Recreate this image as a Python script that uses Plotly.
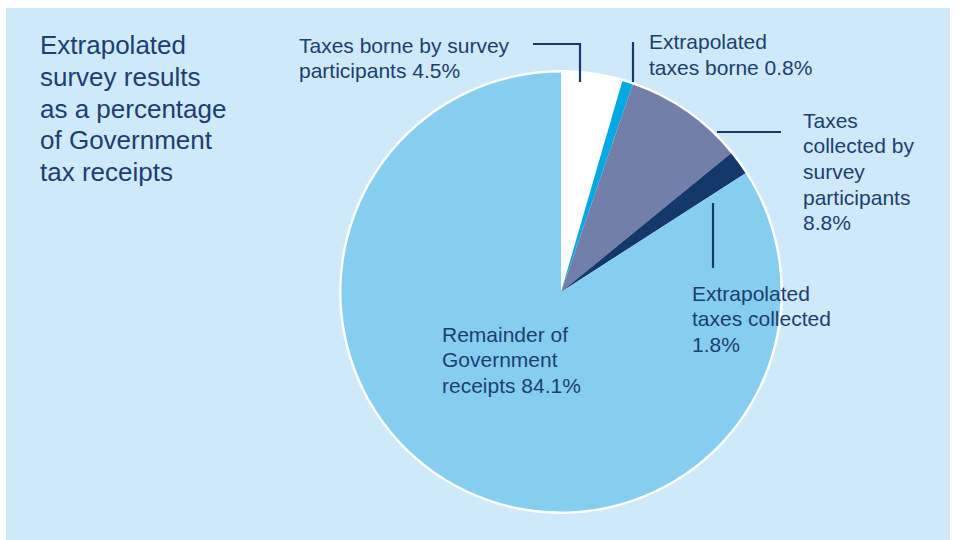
import plotly.graph_objects as go

# Share of Government tax receipts
categories = [
    "Taxes borne by survey participants",
    "Extrapolated taxes borne",
    "Taxes collected by survey participants",
    "Extrapolated taxes collected",
    "Remainder of Government receipts",
]
values = [4.5, 0.8, 8.8, 1.8, 84.1]
slice_colors = ["#ffffff", "#00a9e4", "#737fa8", "#143869", "#86cef0"]

title_lines = ["Extrapolated", "survey results", "as a percentage",
               "of Government", "tax receipts"]

label_lines = [
    ["Taxes borne by survey", "participants 4.5%"],
    ["Extrapolated", "taxes borne 0.8%"],
    ["Taxes", "collected by", "survey", "participants", "8.8%"],
    ["Extrapolated", "taxes collected", "1.8%"],
    ["Remainder of", "Government", "receipts 84.1%"],
]

W, H = 959, 540
TEXT = "#1c3e70"
FONT = "Liberation Sans, Arial, sans-serif"


def px(x):
    return x / W


def py(y):
    return 1 - y / H


def domain(cx, cy, r):
    return dict(x=[px(cx - r), px(cx + r)], y=[py(cy + r), py(cy - r)])


CX, CY = 561, 292

fig = go.Figure()

# white rim behind the pie
fig.add_trace(go.Pie(
    values=[1], marker=dict(colors=["#ffffff"]), textinfo="none",
    hoverinfo="skip", showlegend=False, sort=False,
    domain=domain(CX, CY, 222),
))

fig.add_trace(go.Pie(
    labels=categories, values=values, marker=dict(colors=slice_colors, line=dict(width=0)),
    textinfo="none", hoverinfo="label+percent", showlegend=False,
    sort=False, direction="clockwise", rotation=0,
    domain=domain(CX, CY, 219.5),
))

annotations = []


def add_block(lines, x, y0, step, size):
    for i, t in enumerate(lines):
        annotations.append(dict(
            text=t, x=px(x), y=py(y0 + i * step), xref="paper", yref="paper",
            xanchor="left", yanchor="middle", showarrow=False,
            font=dict(family=FONT, size=size, color=TEXT),
        ))


add_block(title_lines, 38, 45, 31.75, 26)
label_pos = [(297, 45), (647, 42), (801, 120), (690, 293), (440, 334)]
for lines, (x, y) in zip(label_lines, label_pos):
    add_block(lines, x, y, 25.7, 21)

LINE = dict(color="#163a6c", width=2.2)
leaders = [
    [(533, 44), (580, 44), (580, 82)],
    [(633, 42), (633, 82)],
    [(717, 132), (781, 132)],
    [(713, 203), (713, 268)],
]
shapes = [dict(type="rect", xref="paper", yref="paper",
               x0=px(6), x1=px(950), y0=py(540), y1=py(8),
               fillcolor="#cfe9fa", line=dict(width=0), layer="below")]
for pts in leaders:
    path = "M " + " L ".join(f"{px(a)},{py(b)}" for a, b in pts)
    shapes.append(dict(type="path", xref="paper", yref="paper", path=path, line=LINE))

fig.update_layout(
    width=W, height=H, margin=dict(l=0, r=0, t=0, b=0),
    paper_bgcolor="#ffffff", plot_bgcolor="#ffffff",
    shapes=shapes, annotations=annotations,
)

fig.write_html("out.html", config={"displayModeBar": False})
